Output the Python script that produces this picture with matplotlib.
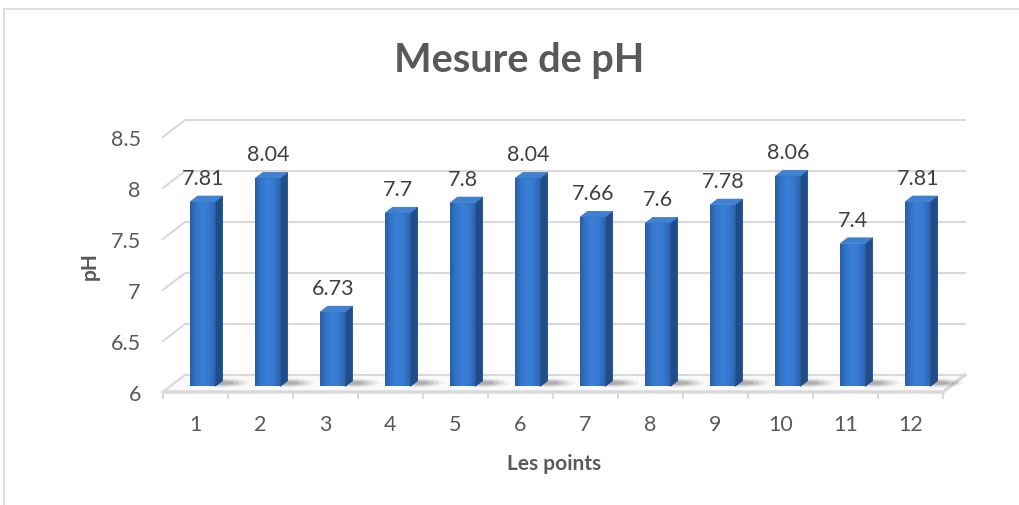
import numpy as np
import matplotlib
matplotlib.use("Agg")
import matplotlib.pyplot as plt
from matplotlib.patches import Polygon, Ellipse
from matplotlib.lines import Line2D
from matplotlib.colors import LinearSegmentedColormap

# ---- data ----
points = [1, 2, 3, 4, 5, 6, 7, 8, 9, 10, 11, 12]
ph_values = [7.81, 8.04, 6.73, 7.7, 7.8, 8.04, 7.66, 7.6, 7.78, 8.06, 7.4, 7.81]
y_ticks = [6, 6.5, 7, 7.5, 8, 8.5]
y_tick_labels = ["6", "6.5", "7", "7.5", "8", "8.5"]
title = "Mesure de pH"
x_title = "Les points"
y_title = "pH"

FONT = "Lato"
TXT = "#595959"
GRID = "#d9d9d9"

W, H, DPI = 1019, 506, 100
fig = plt.figure(figsize=(W / DPI, H / DPI), dpi=DPI)
fig.patch.set_facecolor("white")

# front plane of the 3-D plot box, in figure pixels
left_px, right_px, top_px, bot_px = 163, 943, 138, 393
ax = fig.add_axes([left_px / W, (H - bot_px) / H,
                   (right_px - left_px) / W, (bot_px - top_px) / H])
ax.set_xlim(0.5, len(points) + 0.5)
ax.set_ylim(y_ticks[0], y_ticks[-1])
ax.patch.set_alpha(0)
for s in ax.spines.values():
    s.set_visible(False)

# pixel -> data scale factors
sx = (ax.get_xlim()[1] - ax.get_xlim()[0]) / (right_px - left_px)
sy = (ax.get_ylim()[1] - ax.get_ylim()[0]) / (bot_px - top_px)

# depth of the plot box (front -> back wall), in pixels
DEPTH_X, DEPTH_Y = 22, 17
dxd, dyd = DEPTH_X * sx, DEPTH_Y * sy
x0, x1 = ax.get_xlim()
ymin = y_ticks[0]

# back wall gridlines with the diagonal on the left side wall
for v in y_ticks:
    ax.add_line(Line2D([x0, x0 + dxd, x1 + dxd], [v, v + dyd, v + dyd],
                       color=GRID, lw=1.5, clip_on=False, zorder=1))

# floor
floor = Polygon([[x0, ymin], [x1, ymin], [x1 + dxd, ymin + dyd], [x0 + dxd, ymin + dyd]],
                closed=True, facecolor="#fafafa", edgecolor=GRID, lw=1.5,
                clip_on=False, zorder=1)
ax.add_patch(floor)
ax.add_line(Line2D([x0, x1, x1 + dxd], [ymin, ymin, ymin + dyd], color=GRID, lw=2.5,
                   clip_on=False, zorder=2))

# category separators below the front edge
ax.set_xticks(points)
ax.set_xticklabels([str(p) for p in points])
ax.set_xticks(np.arange(0.5, len(points) + 1, 1.0), minor=True)
ax.tick_params(axis="x", which="major", length=0, pad=16, labelsize=15.5, labelcolor=TXT)
ax.tick_params(axis="x", which="minor", length=5, width=1.5, color=GRID, direction="out")
ax.set_yticks(y_ticks)
ax.set_yticklabels(y_tick_labels)
ax.tick_params(axis="y", length=0, pad=16, labelsize=15.5, labelcolor=TXT)
for lab in ax.get_xticklabels() + ax.get_yticklabels():
    lab.set_fontfamily(FONT)

# bars: front face at 1/3 of the depth, back face at 2/3
bar_w_px = 25
bw = bar_w_px * sx
fx, fy = DEPTH_X / 3 * sx, DEPTH_Y / 3 * sy

front_cmap = LinearSegmentedColormap.from_list(
    "front", ["#2a5da6", "#3276c9", "#3a80d8", "#3679cf", "#2b65b5"])
grad = np.linspace(0, 1, 64).reshape(1, -1)

# soft shadows on the floor
for p in points:
    cx = p + fx + bw * 0.85
    cy = ymin + fy * 1.6
    for k, a in zip([1.0, 0.8, 0.6, 0.4], [0.06, 0.09, 0.12, 0.16]):
        ax.add_patch(Ellipse((cx, cy), width=bw * 2.0 * k, height=9 * sy * k,
                             angle=0, facecolor="#303030", edgecolor="none",
                             alpha=a, clip_on=False, zorder=3))

bars = ax.bar(np.array(points) + fx, np.array(ph_values) - ymin, width=bw,
              bottom=ymin + fy, color="none", edgecolor="none", zorder=5)

for rect, v in zip(bars, ph_values):
    bx = rect.get_x()
    by = rect.get_y()
    top = by + rect.get_height()
    img = ax.imshow(grad, cmap=front_cmap, aspect="auto",
                    extent=[bx, bx + bw, by, top], zorder=5, interpolation="bilinear")
    img.set_clip_path(rect)
    # right side face
    side = Polygon([[bx + bw, by], [bx + bw + fx, by + fy],
                    [bx + bw + fx, top + fy], [bx + bw, top]],
                   closed=True, facecolor="#1f4c8a", edgecolor="#1c4680", lw=0.5,
                   clip_on=False, zorder=5)
    ax.add_patch(side)
    # top face
    cap = Polygon([[bx, top], [bx + bw, top], [bx + bw + fx, top + fy], [bx + fx, top + fy]],
                  closed=True, facecolor="#3f81d2", edgecolor="#3572bf", lw=0.5,
                  clip_on=False, zorder=6)
    ax.add_patch(cap)
    ax.annotate(f"{v:g}", xy=(bx + bw / 2, top), xytext=(0, 18),
                textcoords="offset pixels", ha="center", va="baseline",
                fontsize=15.5, color="#404040", fontfamily=FONT, zorder=7,
                annotation_clip=False)

ax.set_ylim(y_ticks[0], y_ticks[-1])
ax.set_xlim(x0, x1)

# titles
fig.text(519 / W, 1 - 72 / H, title, ha="center", va="baseline", fontsize=28.5,
         fontweight="bold", color=TXT, fontfamily=FONT)
fig.text(554 / W, 1 - 470 / H, x_title, ha="center", va="baseline", fontsize=15,
         fontweight="bold", color=TXT, fontfamily=FONT)
fig.text(90 / W, 1 - 266 / H, y_title, ha="center", va="center", rotation=90,
         fontsize=15, fontweight="bold", color=TXT, fontfamily=FONT)

# chart-area border (top and left edges)
fig.add_artist(Line2D([4 / W, 4 / W], [0, 1 - 10 / H], transform=fig.transFigure,
                      color=GRID, lw=1.2))
fig.add_artist(Line2D([4 / W, 1], [1 - 10 / H, 1 - 10 / H], transform=fig.transFigure,
                      color=GRID, lw=1.2))

fig.savefig("out.png", dpi=DPI, facecolor="white")
